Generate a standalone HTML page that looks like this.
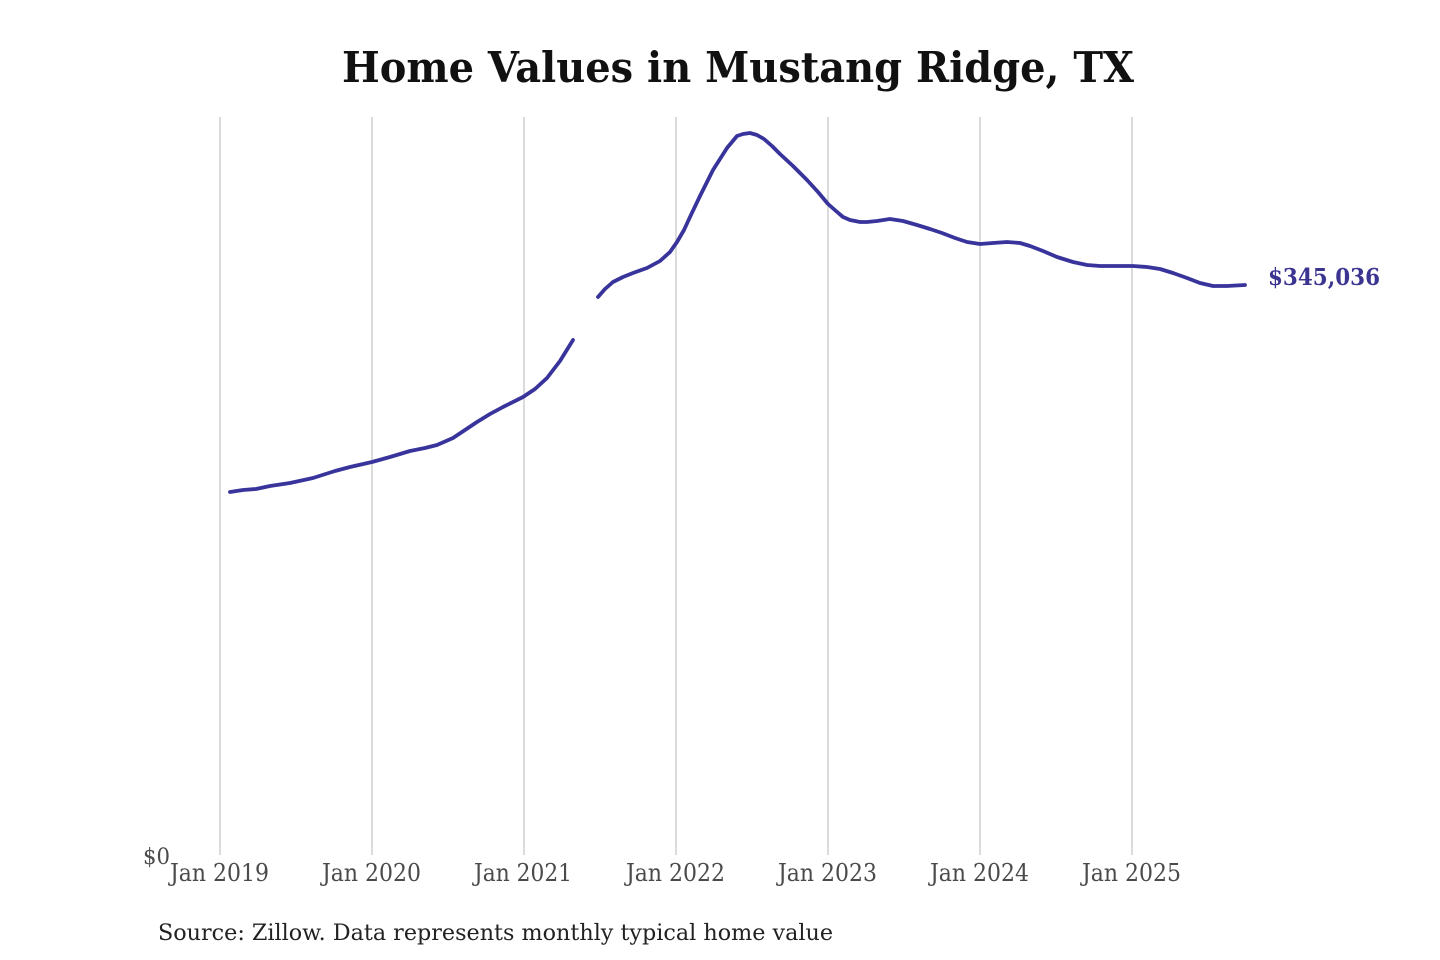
<!DOCTYPE html>
<html>
<head>
<meta charset="utf-8">
<style>
  html,body{margin:0;padding:0;background:#fff;}
  svg{display:block;}
</style>
</head>
<body>
<svg width="1440" height="960" viewBox="0 0 1440 960" xmlns="http://www.w3.org/2000/svg">
  <rect x="0" y="0" width="1440" height="960" fill="#ffffff"/>
  <!-- Title -->
  <text x="342" y="82" font-family="'DejaVu Serif','Liberation Serif',serif" font-weight="bold" font-size="42" fill="#111" textLength="792" lengthAdjust="spacingAndGlyphs">Home Values in Mustang Ridge, TX</text>

  <!-- Gridlines -->
  <g stroke="#c8c8c8" stroke-width="1.3">
    <line x1="220" y1="117" x2="220" y2="855"/>
    <line x1="372" y1="117" x2="372" y2="855"/>
    <line x1="524" y1="117" x2="524" y2="855"/>
    <line x1="676" y1="117" x2="676" y2="855"/>
    <line x1="828" y1="117" x2="828" y2="855"/>
    <line x1="980" y1="117" x2="980" y2="855"/>
    <line x1="1132" y1="117" x2="1132" y2="855"/>
  </g>

  <!-- Tick labels -->
  <g font-family="'DejaVu Serif','Liberation Serif',serif" font-size="24" fill="#4a4a4a">
    <text x="170" y="881" textLength="99" lengthAdjust="spacingAndGlyphs">Jan 2019</text>
    <text x="322" y="881" textLength="99" lengthAdjust="spacingAndGlyphs">Jan 2020</text>
    <text x="474" y="881" textLength="98" lengthAdjust="spacingAndGlyphs">Jan 2021</text>
    <text x="626" y="881" textLength="99" lengthAdjust="spacingAndGlyphs">Jan 2022</text>
    <text x="778" y="881" textLength="99" lengthAdjust="spacingAndGlyphs">Jan 2023</text>
    <text x="930" y="881" textLength="99" lengthAdjust="spacingAndGlyphs">Jan 2024</text>
    <text x="1082" y="881" textLength="99" lengthAdjust="spacingAndGlyphs">Jan 2025</text>
  </g>
  <text x="143" y="864" font-family="'DejaVu Serif','Liberation Serif',serif" font-size="22" fill="#4a4a4a" textLength="27" lengthAdjust="spacingAndGlyphs">$0</text>

  <!-- Series -->
  <g fill="none" stroke="#38349b" stroke-width="3.8" stroke-linejoin="round" stroke-linecap="round">
    <polyline points="230,492 243,490 256,489 270,486 290,483 313,478 335,471 350,467 372,462 390,457 410,451 425,448 437,445 453,438 465,430 477,422 490,414 503,407 523,397 535,389 547,378 560,361 573,340"/>
    <polyline points="598,297 605,289 613,282 623,277 633,273 647,268 660,261 670,252 677,242 684,230 690,217 700,196 713,170 727,148 737,136 743,134 750,133 757,135 764,139 772,146 780,154 793,166 807,180 818,192 828,204 836,211 843,217 850,220 860,222 867,222 877,221 890,219 903,221 917,225 930,229 942,233 955,238 967,242 980,244 993,243 1007,242 1020,243 1030,246 1043,251 1057,257 1073,262 1087,265 1100,266 1117,266 1133,266 1147,267 1160,269 1173,273 1187,278 1200,283 1213,286 1227,286 1245,285"/>
  </g>

  <!-- End label -->
  <text x="1268" y="285" font-family="'DejaVu Serif','Liberation Serif',serif" font-weight="bold" font-size="23" fill="#3b3591" textLength="112" lengthAdjust="spacingAndGlyphs">$345,036</text>

  <!-- Source -->
  <text x="158" y="940" font-family="'DejaVu Serif','Liberation Serif',serif" font-size="22" fill="#222" textLength="675" lengthAdjust="spacingAndGlyphs">Source: Zillow. Data represents monthly typical home value</text>
</svg>
</body>
</html>
